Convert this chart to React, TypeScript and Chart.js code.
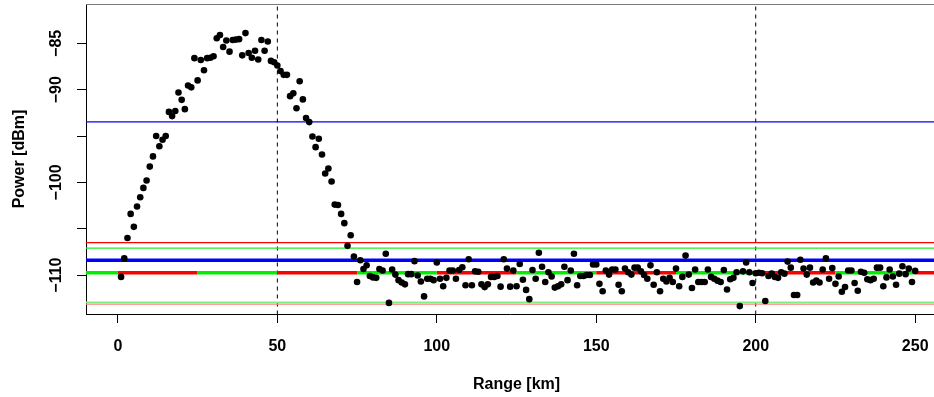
import { useEffect, useRef } from 'react';
import { Chart, registerables } from 'chart.js';

Chart.register(...registerables);

// Range samples in km
const rangeKm = [
  1, 2, 3, 4, 5, 6, 7, 8, 9, 10, 11, 12, 13, 14, 15, 16, 17, 18, 19, 20, 21, 22, 23, 24, 25,
  26, 27, 28, 29, 30, 31, 32, 33, 34, 35, 36, 37, 38, 39, 40, 41, 42, 43, 44, 45, 46, 47, 48, 49, 50,
  51, 52, 53, 54, 55, 56, 57, 58, 59, 60, 61, 62, 63, 64, 65, 66, 67, 68, 69, 70, 71, 72, 73, 74, 75,
  76, 77, 78, 79, 80, 81, 82, 83, 84, 85, 86, 87, 88, 89, 90, 91, 92, 93, 94, 95, 96, 97, 98, 99, 100,
  101, 102, 103, 104, 105, 106, 107, 108, 109, 110, 111, 112, 113, 114, 115, 116, 117, 118, 119, 120, 121, 122, 123, 124, 125,
  126, 127, 128, 129, 130, 131, 132, 133, 134, 135, 136, 137, 138, 139, 140, 141, 142, 143, 144, 145, 146, 147, 148, 149, 150,
  151, 152, 153, 154, 155, 156, 157, 158, 159, 160, 161, 162, 163, 164, 165, 166, 167, 168, 169, 170, 171, 172, 173, 174, 175,
  176, 177, 178, 179, 180, 181, 182, 183, 184, 185, 186, 187, 188, 189, 190, 191, 192, 193, 194, 195, 196, 197, 198, 199, 200,
  201, 202, 203, 204, 205, 206, 207, 208, 209, 210, 211, 212, 213, 214, 215, 216, 217, 218, 219, 220, 221, 222, 223, 224, 225,
  226, 227, 228, 229, 230, 231, 232, 233, 234, 235, 236, 237, 238, 239, 240, 241, 242, 243, 244, 245, 246, 247, 248, 249, 250,
];

// Received power per range sample, dBm
const powerDbm = [
  -110.2, -108.2, -106.0, -103.4, -104.8, -102.6, -101.6, -100.6, -99.8, -98.3,
  -97.2, -95.0, -96.1, -95.4, -95.0, -92.4, -92.85, -92.3, -90.3, -91.1,
  -92.1, -89.55, -89.75, -86.6, -89.0, -86.8, -87.9, -86.6, -86.55, -86.4,
  -84.45, -84.1, -85.4, -84.7, -85.9, -84.65, -84.6, -84.55, -86.3, -83.9,
  -86.05, -86.55, -85.8, -86.75, -84.65, -85.8, -84.8, -86.9, -87.05, -87.4,
  -88.0, -88.4, -88.4, -90.7, -90.4, -92.0, -89.1, -91.05, -93.05, -93.5,
  -95.05, -96.2, -95.3, -97.0, -99.05, -98.5, -99.9, -102.4, -102.45, -103.4,
  -104.4, -106.85, -105.7, -108.0, -110.75, -108.4, -109.35, -108.95, -110.1, -110.25,
  -110.3, -109.35, -109.5, -107.7, -113.0, -109.4, -109.95, -110.55, -110.8, -111.0,
  -109.9, -109.9, -108.5, -110.05, -110.7, -112.3, -110.4, -110.4, -110.55, -108.65,
  -110.4, -111.2, -110.3, -109.5, -109.5, -110.4, -109.45, -109.15, -111.1, -108.3,
  -111.1, -109.6, -109.65, -111.0, -111.3, -111.0, -110.2, -110.2, -110.1, -111.25,
  -108.3, -109.3, -111.25, -109.5, -111.2, -108.8, -110.5, -111.6, -112.6, -109.45,
  -110.4, -107.6, -109.1, -110.75, -109.7, -110.15, -111.35, -111.2, -111.0, -109.1,
  -110.55, -109.5, -107.7, -111.1, -110.1, -110.1, -110.0, -110.0, -108.85, -108.85,
  -110.95, -111.75, -109.5, -109.95, -109.4, -109.4, -111.05, -111.75, -109.3, -109.7,
  -109.95, -109.2, -109.2, -109.6, -110.0, -110.4, -108.95, -111.05, -109.7, -111.75,
  -110.4, -110.7, -110.3, -110.75, -109.3, -111.2, -110.2, -107.9, -109.95, -111.4,
  -109.4, -110.75, -110.75, -110.75, -109.4, -110.2, -110.4, -110.6, -110.75, -109.45,
  -111.55, -110.45, -110.3, -109.7, -113.35, -109.6, -108.65, -109.7, -110.85, -109.8,
  -109.75, -109.8, -112.8, -110.1, -109.85, -110.2, -110.3, -109.7, -109.85, -108.55,
  -109.2, -112.15, -112.15, -108.35, -109.3, -109.95, -109.2, -110.8, -110.6, -110.8,
  -109.4, -108.2, -110.4, -109.25, -110.95, -110.15, -111.8, -111.3, -109.5, -109.5,
  -110.85, -111.7, -109.65, -109.75, -110.45, -110.55, -110.4, -109.2, -109.2, -111.2,
  -110.25, -109.4, -110.15, -111.05, -109.85, -109.05, -109.9, -109.3, -110.75, -109.55,
];

// Horizontal reference levels, dBm
const detectionThreshold = -93.47;
const upperRedLevel = -106.5;
const upperGreenLevel = -107.1;
const meanNoiseLevel = -108.4;
const lowerGreenLevel = -112.95;
const lowerRedLevel = -113.15;

// Noise floor drawn in alternating 25 km blocks
const noiseFloorLevel = -109.75;
const noiseFloorBreaksKm = [0, 25, 50, 75, 100, 125, 150, 175, 200, 225, 250];

// Vertical markers, km
const markerKm = [50, 200];

// Axis extents and ticks
const xMin = -10;
const xMax = 255.9;
const xFullMax = 260;
const yMin = -114.2;
const yMax = -80.76;
const xTicks = [0, 50, 100, 150, 200, 250];
const xTickLabels = ['0', '50', '100', '150', '200', '250'];
const yTicks = [-110, -105, -100, -95, -90, -85];
const yTickLabels = ['\u2212110', '', '\u2212100', '', '\u221290', '\u221285'];

const FONT = 'bold 16px "Liberation Sans", Arial, Helvetica, sans-serif';

function hLine(level: number, color: string, width: number) {
  return {
    data: [
      { x: xMin, y: level },
      { x: xMax, y: level },
    ],
    showLine: true,
    pointRadius: 0,
    borderColor: color,
    borderWidth: width,
    borderCapStyle: 'butt' as const,
    tension: 0,
  };
}

function vLine(km: number) {
  return {
    data: [
      { x: km, y: yMax },
      { x: km, y: yMin },
    ],
    showLine: true,
    pointRadius: 0,
    borderColor: '#000000',
    borderWidth: 1,
    borderDash: [4, 4],
    borderDashOffset: 5.5,
    tension: 0,
  };
}

const framePlugin = {
  id: 'rFrame',
  afterDraw(chart: any) {
    const { ctx, chartArea, scales } = chart;
    const x = scales.x;
    const y = scales.y;
    ctx.save();

    // top frame edge
    ctx.strokeStyle = '#7a7a7a';
    ctx.lineWidth = 1;
    ctx.beginPath();
    ctx.moveTo(chartArea.left, chartArea.top + 0.5);
    ctx.lineTo(chartArea.right, chartArea.top + 0.5);
    ctx.stroke();

    ctx.fillStyle = '#000000';
    ctx.font = FONT;
    ctx.textAlign = 'center';
    ctx.textBaseline = 'alphabetic';

    xTicks.forEach((v, i) => {
      ctx.fillText(xTickLabels[i], x.getPixelForValue(v), chartArea.bottom + 37);
    });

    yTicks.forEach((v, i) => {
      const label = yTickLabels[i];
      if (!label) return;
      ctx.save();
      ctx.translate(chartArea.left - 25, y.getPixelForValue(v));
      ctx.rotate(-Math.PI / 2);
      ctx.fillText(label, 0, 0);
      ctx.restore();
    });

    ctx.fillText('Range [km]', x.getPixelForValue((xMin + xFullMax) / 2), chartArea.bottom + 75);

    ctx.save();
    ctx.translate(chartArea.left - 62, (chartArea.top + chartArea.bottom) / 2);
    ctx.rotate(-Math.PI / 2);
    ctx.fillText('Power [dBm]', 0, 0);
    ctx.restore();

    ctx.restore();
  },
};

export default function App() {
  const canvasRef = useRef<HTMLCanvasElement>(null);

  useEffect(() => {
    const canvas = canvasRef.current;
    if (!canvas) return;

    const points = rangeKm.map((km, i) => ({ x: km, y: powerDbm[i] }));
    const floorPoints = [xMin, ...noiseFloorBreaksKm, xMax].map((km) => ({ x: km, y: noiseFloorLevel }));

    const chart = new Chart(canvas, {
      type: 'scatter',
      data: {
        datasets: [
          {
            data: points,
            pointRadius: 3.3,
            pointHoverRadius: 3.3,
            pointBorderWidth: 0,
            pointBackgroundColor: '#000000',
            borderColor: '#000000',
            showLine: false,
          } as any,
          {
            data: floorPoints,
            showLine: true,
            pointRadius: 0,
            borderWidth: 3.5,
            borderCapStyle: 'butt',
            tension: 0,
            borderColor: '#ff0000',
            segment: {
              borderColor: (ctx: any) => (ctx.p0DataIndex % 2 === 0 ? '#00ee00' : '#ff0000'),
            },
          } as any,
          hLine(meanNoiseLevel, '#0000ff', 3.5) as any,
          hLine(detectionThreshold, '#0000ff', 1.4) as any,
          hLine(upperRedLevel, '#ff0000', 1.3) as any,
          hLine(upperGreenLevel, '#22ee22', 1.3) as any,
          hLine(lowerRedLevel, '#ff8080', 1.2) as any,
          hLine(lowerGreenLevel, '#80f080', 2) as any,
          ...markerKm.map((km) => vLine(km) as any),
        ],
      },
      options: {
        responsive: false,
        animation: false,
        devicePixelRatio: 1,
        events: [],
        layout: { autoPadding: false, padding: { top: 4, left: 0, right: 0, bottom: 0 } },
        plugins: {
          legend: { display: false },
          tooltip: { enabled: false },
        },
        scales: {
          x: {
            type: 'linear',
            min: xMin,
            max: xMax,
            afterFit: (scale: any) => {
              scale.height = 83;
            },
            afterBuildTicks: (scale: any) => {
              scale.ticks = xTicks.map((v) => ({ value: v }));
            },
            ticks: { display: false },
            grid: {
              drawOnChartArea: false,
              drawTicks: true,
              tickLength: 9,
              color: '#000000',
              lineWidth: 1,
            },
            border: { display: true, color: '#000000', width: 1 },
          },
          y: {
            type: 'linear',
            min: yMin,
            max: yMax,
            afterFit: (scale: any) => {
              scale.width = 86;
            },
            afterBuildTicks: (scale: any) => {
              scale.ticks = yTicks.map((v) => ({ value: v }));
            },
            ticks: { display: false },
            grid: {
              drawOnChartArea: false,
              drawTicks: true,
              tickLength: 9,
              color: '#000000',
              lineWidth: 1,
            },
            border: { display: true, color: '#000000', width: 1 },
          },
        },
      },
      plugins: [framePlugin],
    });

    return () => chart.destroy();
  }, []);

  return (
    <div style={{ position: 'absolute', left: 0, top: 0, width: 934, height: 397, background: '#ffffff' }}>
      <canvas ref={canvasRef} width={934} height={397} style={{ display: 'block' }} />
    </div>
  );
}
